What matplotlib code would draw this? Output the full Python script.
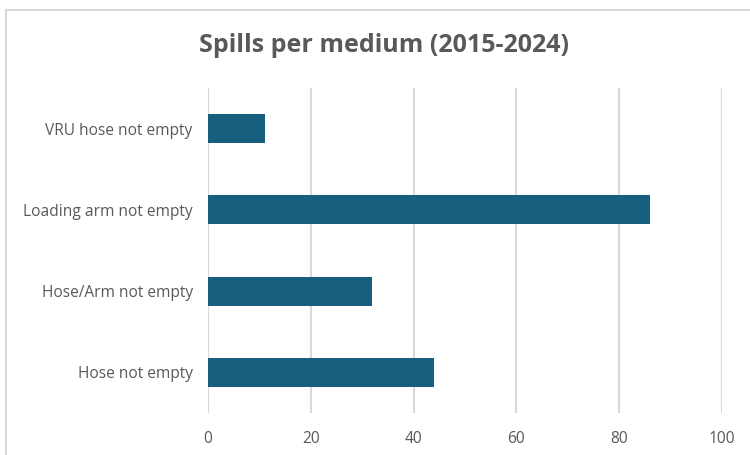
import matplotlib
matplotlib.use("Agg")
import matplotlib.pyplot as plt
from matplotlib.patches import Rectangle

categories = ["Hose not empty", "Hose/Arm not empty", "Loading arm not empty", "VRU hose not empty"]
spills = [44, 32, 86, 11]
x_ticks = [0, 20, 40, 60, 80, 100]

plt.rcParams['font.family'] = ['Open Sans', 'DejaVu Sans']

fig = plt.figure(figsize=(7.5, 4.55), dpi=100)
ax = fig.add_axes([0.2773, 0.0923, 0.6854, 0.7143])

ax.barh(categories, spills, height=0.36, color="#185F7F", zorder=3)

ax.set_xlim(0, 100)
ax.set_ylim(-0.5, len(categories) - 0.5)
ax.set_xticks(x_ticks)
ax.grid(axis="x", color="#D9D9D9", linewidth=1.5, zorder=0)
for side in ["top", "right", "bottom", "left"]:
    ax.spines[side].set_visible(False)
ax.tick_params(axis="both", length=0, colors="#595959", labelsize=11.2)
ax.tick_params(axis="x", pad=13)
ax.tick_params(axis="y", pad=11)

fig.text(0.512, 0.899, "Spills per medium (2015-2024)", ha="center", va="center",
         fontsize=18, fontweight="bold", color="#595959")

# light chart border
fig.patches.append(Rectangle((0.008, -0.1), 1.2, 1.078, transform=fig.transFigure,
                             fill=False, edgecolor="#D9D9D9", linewidth=1.5))

fig.savefig("out.png", dpi=100)
